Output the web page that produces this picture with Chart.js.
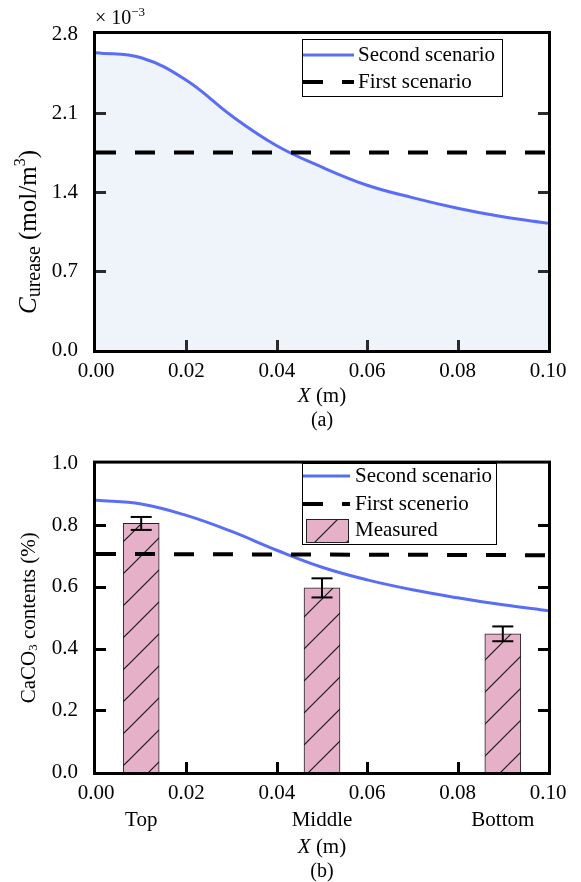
<!DOCTYPE html>
<html>
<head>
<meta charset="utf-8">
<script src="https://cdn.jsdelivr.net/npm/chart.js@4/dist/chart.umd.min.js"></script>
<style>
  html, body { margin: 0; padding: 0; background: #fff; }
  canvas { display: block; }
</style>
</head>
<body>
<canvas id="chartA" width="581" height="441"></canvas>
<canvas id="chartB" width="581" height="441"></canvas>
<script>
// ---------------- DATA ----------------
const xPositions = [0, 0.01, 0.02, 0.03, 0.04, 0.05, 0.06, 0.07, 0.08, 0.09, 0.10];
// (a) urease concentration, x 10^-3 mol/m3
const ureaseSecond = [2.635, 2.59, 2.39, 2.075, 1.81, 1.62, 1.46, 1.35, 1.256, 1.18, 1.124];
const ureaseFirstX = [0, 0.10];
const ureaseFirst = [1.75, 1.75];
// (b) CaCO3 contents (%)
const caco3Second = [0.881, 0.869, 0.832, 0.780, 0.719, 0.664, 0.623, 0.591, 0.565, 0.542, 0.523];
const caco3FirstX = [0, 0.10];
const caco3First = [0.707, 0.703];
const sites = ['Top', 'Middle', 'Bottom'];
const siteX = [0.01, 0.05, 0.09];
const measured = [0.806, 0.597, 0.448];
const measuredErr = [0.021, 0.031, 0.024];
// axis ticks
const xTickStep = 0.02;
const ureaseTickStep = 0.7;
const caco3TickStep = 0.2;

// ---------------- STYLE ----------------
const FONT = '"Liberation Serif", "Times New Roman", serif';
const BLUE = '#5a6ef5';
const FILL = '#eef4fa';
const PINK = '#e6b0c8';
const TICK_FONT = { family: FONT, size: 21 };

function hatchPattern() {
  const c = document.createElement('canvas');
  c.width = 32; c.height = 32;
  const g = c.getContext('2d');
  g.fillStyle = PINK; g.fillRect(0, 0, 32, 32);
  g.strokeStyle = '#1a1a1a'; g.lineWidth = 1.2;
  g.beginPath(); g.moveTo(-4, 36); g.lineTo(36, -4); g.stroke();
  g.beginPath(); g.moveTo(-4, 4); g.lineTo(4, -4); g.stroke();
  g.beginPath(); g.moveTo(28, 36); g.lineTo(36, 28); g.stroke();
  return g.createPattern(c, 'repeat');
}
const HATCH = hatchPattern();

function pts(xs, ys) { return xs.map((x, i) => ({ x: x, y: ys[i] })); }

function drawRuns(ctx, runs, x, y, align) {
  ctx.save();
  let total = 0;
  runs.forEach(r => {
    ctx.font = (r.italic ? 'italic ' : '') + r.size + 'px ' + FONT;
    r.w = ctx.measureText(r.t).width;
    total += r.w;
  });
  let cx = align === 'center' ? x - total / 2 : (align === 'right' ? x - total : x);
  ctx.fillStyle = '#000';
  ctx.textBaseline = 'middle';
  ctx.textAlign = 'left';
  runs.forEach(r => {
    ctx.font = (r.italic ? 'italic ' : '') + r.size + 'px ' + FONT;
    ctx.fillText(r.t, cx, y + (r.dy || 0));
    cx += r.w;
  });
  ctx.restore();
}

function drawFrameAndTicks(chart, tickColor) {
  const { ctx, chartArea: a, scales } = chart;
  ctx.save();
  ctx.strokeStyle = '#000';
  ctx.lineWidth = 3;
  ctx.strokeRect(a.left - 1.5, a.top - 1.5, a.right - a.left + 3, a.bottom - a.top + 3);
  ctx.strokeStyle = tickColor;
  ctx.lineWidth = 3;
  const L = 10;
  const ys = scales.y;
  ys.ticks.forEach(t => {
    if (t.value <= ys.min + 1e-9 || t.value >= ys.max - 1e-9) return;
    const py = Math.round(ys.getPixelForValue(t.value)) + 0.5;
    ctx.beginPath(); ctx.moveTo(a.left, py); ctx.lineTo(a.left + L, py); ctx.stroke();
    ctx.beginPath(); ctx.moveTo(a.right, py); ctx.lineTo(a.right - L, py); ctx.stroke();
  });
  const xs = scales.x;
  xs.ticks.forEach(t => {
    if (t.value <= xs.min + 1e-9 || t.value >= xs.max - 1e-9) return;
    const px = Math.round(xs.getPixelForValue(t.value)) + 0.5;
    ctx.beginPath(); ctx.moveTo(px, a.bottom); ctx.lineTo(px, a.bottom - L); ctx.stroke();
  });
  ctx.restore();
}

function drawLegend(chart, box, rows, sx0, sx1, tx) {
  const ctx = chart.ctx;
  ctx.save();
  ctx.fillStyle = '#fff';
  ctx.fillRect(box.x, box.y, box.w, box.h);
  ctx.strokeStyle = '#000';
  ctx.lineWidth = 1;
  ctx.strokeRect(box.x + 0.5, box.y + 0.5, box.w, box.h);
  rows.forEach(r => {
    const ds = chart.data.datasets[r.ds];
    if (r.type === 'bar') {
      ctx.fillStyle = ds.backgroundColor;
      ctx.fillRect(r.bx0, r.by0, r.bx1 - r.bx0, r.by1 - r.by0);
      ctx.strokeStyle = '#222'; ctx.lineWidth = 1;
      ctx.strokeRect(r.bx0 + 0.5, r.by0 + 0.5, r.bx1 - r.bx0, r.by1 - r.by0);
    } else {
      ctx.strokeStyle = ds.borderColor;
      ctx.lineWidth = ds.borderWidth;
      ctx.setLineDash(ds.borderDash || []);
      ctx.beginPath(); ctx.moveTo(sx0, r.y); ctx.lineTo(sx1, r.y); ctx.stroke();
      ctx.setLineDash([]);
    }
    drawRuns(ctx, [{ t: r.label, size: 21 }], tx, r.y, 'left');
  });
  ctx.restore();
}

function xTitle(ctx, cx, y) {
  drawRuns(ctx, [{ t: 'X', size: 21, italic: true }, { t: ' (m)', size: 21 }], cx, y, 'center');
}

// ---------------- CHART A ----------------
const decoA = {
  id: 'decoA',
  afterDraw(chart) {
    const { ctx, chartArea: a } = chart;
    drawFrameAndTicks(chart, '#2b2b2b');
    drawLegend(chart, { x: 302, y: 39, w: 200, h: 57 }, [
      { ds: 0, type: 'line', y: 55, label: 'Second scenario' },
      { ds: 3, type: 'dash', y: 82, label: 'First scenario' }
    ], 303, 354, 358);
    // y title
    ctx.save();
    ctx.translate(29, 232);
    ctx.rotate(-Math.PI / 2);
    drawRuns(ctx, [
      { t: 'C', size: 25, italic: true },
      { t: 'urease', size: 20, dy: 6 },
      { t: ' (mol/m', size: 25 },
      { t: '3', size: 16, dy: -8 },
      { t: ')', size: 25 }
    ], 0, 0, 'center');
    ctx.restore();
    // exponent
    drawRuns(ctx, [{ t: '\u00d7 10', size: 20 }, { t: '\u22123', size: 13, dy: -6 }], 95, 19, 'left');
    xTitle(ctx, (a.left + a.right) / 2, 396);
    drawRuns(ctx, [{ t: '(a)', size: 20 }], (a.left + a.right) / 2, 421, 'center');
  }
};

new Chart(document.getElementById('chartA'), {
  type: 'line',
  data: {
    datasets: [
      {
        label: 'Second scenario',
        data: pts(xPositions, ureaseSecond),
        borderColor: BLUE, borderWidth: 3, backgroundColor: FILL,
        fill: 'origin', pointRadius: 0, tension: 0.4, order: 1
      },
      {
        label: 'edge-left',
        data: pts([xPositions[0], xPositions[0]], [0, ureaseSecond[0]]),
        borderColor: BLUE, borderWidth: 3, fill: false, pointRadius: 0, order: 1
      },
      {
        label: 'edge-right',
        data: pts([xPositions[10], xPositions[10]], [ureaseSecond[10], 0]),
        borderColor: BLUE, borderWidth: 3, fill: false, pointRadius: 0, order: 1
      },
      {
        label: 'First scenario',
        data: pts(ureaseFirstX, ureaseFirst),
        borderColor: '#000', borderWidth: 4, borderDash: [20, 19],
        fill: false, pointRadius: 0, order: 0
      }
    ]
  },
  options: {
    responsive: false, animation: false, devicePixelRatio: 1,
    layout: { padding: { left: 0, right: 33, top: 34, bottom: 0 } },
    plugins: { legend: { display: false }, tooltip: { enabled: false } },
    scales: {
      x: {
        type: 'linear', min: 0, max: 0.1,
        grid: { display: false }, border: { display: false },
        ticks: { stepSize: xTickStep, padding: 1, color: '#000', font: TICK_FONT,
                 callback: v => v.toFixed(2), maxRotation: 0 },
        afterFit: s => { s.height = 91; }
      },
      y: {
        type: 'linear', min: 0, max: 2.8,
        grid: { display: false }, border: { display: false },
        ticks: { stepSize: ureaseTickStep, padding: 10, color: '#000', font: TICK_FONT,
                 callback: v => v.toFixed(1) },
        afterFit: s => { s.width = 96; }
      }
    }
  },
  plugins: [decoA]
});

// ---------------- CHART B ----------------
const decoB = {
  id: 'decoB',
  afterDatasetsDraw(chart) {
    const { ctx, scales } = chart;
    ctx.save();
    ctx.strokeStyle = '#000';
    ctx.lineWidth = 2;
    siteX.forEach((xv, i) => {
      const px = scales.x.getPixelForValue(xv);
      const y1 = scales.y.getPixelForValue(measured[i] + measuredErr[i]);
      const y0 = scales.y.getPixelForValue(measured[i] - measuredErr[i]);
      ctx.beginPath(); ctx.moveTo(px, y0); ctx.lineTo(px, y1); ctx.stroke();
      ctx.beginPath(); ctx.moveTo(px - 10.5, y1); ctx.lineTo(px + 10.5, y1); ctx.stroke();
      ctx.beginPath(); ctx.moveTo(px - 10.5, y0); ctx.lineTo(px + 10.5, y0); ctx.stroke();
    });
    ctx.restore();
  },
  afterDraw(chart) {
    const { ctx, chartArea: a, scales } = chart;
    drawFrameAndTicks(chart, '#000');
    drawLegend(chart, { x: 302, y: 22, w: 194, h: 81 }, [
      { ds: 0, type: 'line', y: 35, label: 'Second scenario' },
      { ds: 1, type: 'dash', y: 63, label: 'First scenerio' },
      { ds: 2, type: 'bar', y: 89, label: 'Measured', bx0: 306, by0: 78, bx1: 348, by1: 101 }
    ], 303, 350, 355);
    ctx.save();
    ctx.translate(29, (a.top + a.bottom) / 2);
    ctx.rotate(-Math.PI / 2);
    drawRuns(ctx, [
      { t: 'CaCO', size: 21 },
      { t: '3', size: 13, dy: 5 },
      { t: ' contents (%)', size: 21 }
    ], 0, 0, 'center');
    ctx.restore();
    sites.forEach((s, i) => {
      drawRuns(ctx, [{ t: s, size: 21 }], scales.x.getPixelForValue(siteX[i]), 379, 'center');
    });
    xTitle(ctx, (a.left + a.right) / 2, 406);
    drawRuns(ctx, [{ t: '(b)', size: 20 }], (a.left + a.right) / 2, 431, 'center');
  }
};

new Chart(document.getElementById('chartB'), {
  type: 'line',
  data: {
    datasets: [
      {
        type: 'line', label: 'Second scenario',
        data: pts(xPositions, caco3Second),
        borderColor: BLUE, borderWidth: 3, fill: false, pointRadius: 0,
        tension: 0.4, order: 1
      },
      {
        type: 'line', label: 'First scenerio',
        data: pts(caco3FirstX, caco3First),
        borderColor: '#000', borderWidth: 4, borderDash: [20, 19],
        fill: false, pointRadius: 0, order: 0
      },
      {
        type: 'bar', label: 'Measured',
        data: pts(siteX, measured),
        backgroundColor: HATCH, borderColor: '#222', borderWidth: 1,
        barThickness: 36, order: 2
      }
    ]
  },
  options: {
    responsive: false, animation: false, devicePixelRatio: 1,
    layout: { padding: { left: 0, right: 33, top: 15, bottom: 0 } },
    plugins: { legend: { display: false }, tooltip: { enabled: false } },
    scales: {
      x: {
        type: 'linear', min: 0, max: 0.1, offset: false,
        grid: { display: false, offset: false }, border: { display: false },
        ticks: { stepSize: xTickStep, padding: 1, color: '#000', font: TICK_FONT,
                 callback: v => v.toFixed(2), maxRotation: 0 },
        afterFit: s => { s.height = 110; }
      },
      y: {
        type: 'linear', min: 0, max: 1.0,
        grid: { display: false }, border: { display: false },
        ticks: { stepSize: caco3TickStep, padding: 10, color: '#000', font: TICK_FONT,
                 callback: v => v.toFixed(1) },
        afterFit: s => { s.width = 96; }
      }
    }
  },
  plugins: [decoB]
});
</script>
</body>
</html>
